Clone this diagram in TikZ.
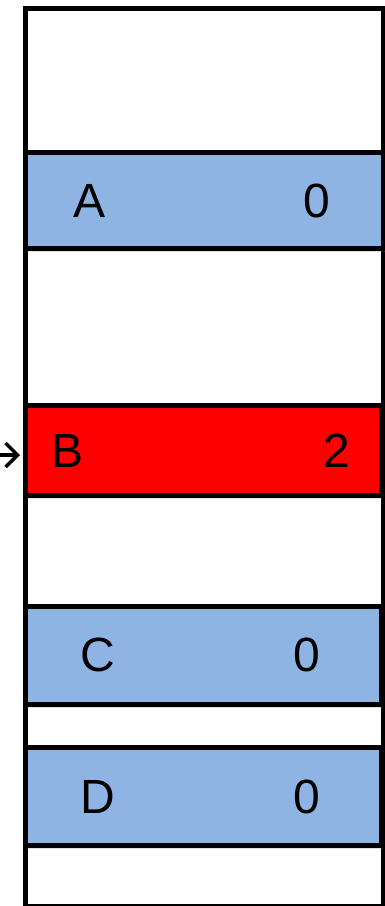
\documentclass[tikz,border=0pt]{standalone}
\usepackage{fontspec}
\setmainfont{Liberation Sans}
\usetikzlibrary{arrows.meta,shadows}
\definecolor{cellblue}{RGB}{142,180,227}
\definecolor{cellred}{RGB}{255,0,0}
\tikzset{
  cell/.style={draw=black, line width=5pt, minimum width=#1, inner sep=0pt, anchor=north west,
    drop shadow={shadow xshift=1pt, shadow yshift=-3pt, opacity=0.25}},
  txt/.style={font=\fontsize{48}{48}\selectfont, text=black, inner sep=0pt}
}
\begin{document}
\begin{tikzpicture}[x=1pt,y=-1pt]
\useasboundingbox (0,0) rectangle (384,906);
\node[draw=black, line width=5pt, fill=white, minimum width=358pt, minimum height=898pt, inner sep=0pt, anchor=north west] (outer) at (23,6) {};
\node[cell=358pt, minimum height=96pt, fill=cellblue] (A) at (23,150) {};
\node[cell=356pt, minimum height=90pt, fill=cellred] (B) at (23,403) {};
\node[cell=356pt, minimum height=98pt, fill=cellblue] (C) at (23,604) {};
\node[cell=356pt, minimum height=98pt, fill=cellblue] (D) at (23,745) {};
\node[txt] (Al) at (90,201) {A};
\node[txt] (Av) at (317,201) {0};
\node[txt] (Bl) at (68,451) {B};
\node[txt] (Bv) at (337,451) {2};
\node[txt] (Cl) at (98,655) {C};
\node[txt] (Cv) at (307,655) {0};
\node[txt] (Dl) at (98,797) {D};
\node[txt] (Dv) at (307,797) {0};
\coordinate (s) at (0,455);
\draw[line width=3.5pt, -{Straight Barb[length=12pt,width=24pt,line width=3.5pt]}] (s) -- ([xshift=-3pt]B.west |- s);
\end{tikzpicture}
\end{document}
